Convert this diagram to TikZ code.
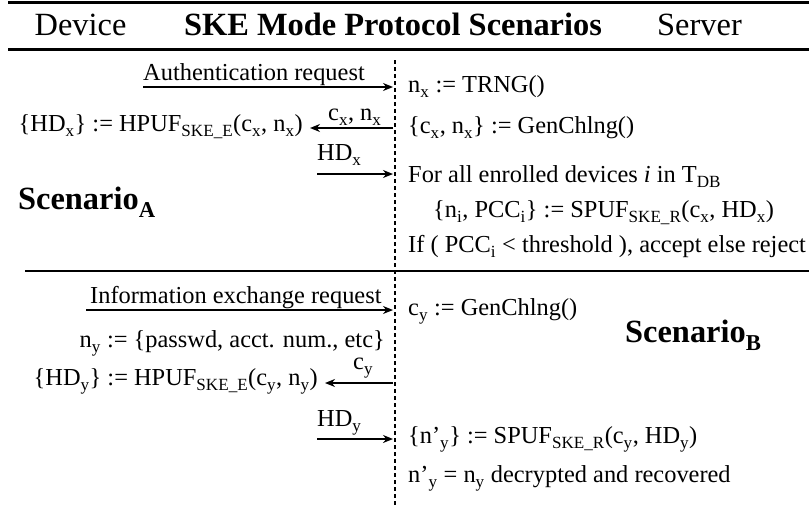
\documentclass[tikz,border=0pt]{standalone}
\usepackage{fontspec}
\setmainfont{Liberation Serif}
\usetikzlibrary{arrows.meta}
\newcommand{\lo}[1]{\raisebox{-2pt}{\textsubscript{#1}}}

\begin{document}
\begin{tikzpicture}[x=1pt, y=-1pt, >={Stealth[length=10pt,width=8pt]},
  msg/.style={->, line width=2.2pt},
  rule/.style={line width=2.2pt},
  life/.style={line width=2.4pt, dash pattern=on 4pt off 3pt},
  txt/.style={font=\fontsize{24.4}{29}\selectfont, inner sep=0pt},
  big/.style={font=\fontsize{32.4}{38}\selectfont, inner sep=0pt}]
\useasboundingbox (0,0) rectangle (809,512);

\draw[rule] (8,2.5) -- (809,2.5);
\node[big, anchor=base] (dev) at (80.5,35) {Device};
\node[big, anchor=base] (title) at (393,35) {\textbf{SKE Mode Protocol Scenarios}};
\node[big, anchor=base] (srv) at (699.5,35) {Server};
\draw[rule] (8,49.5) -- (809,49.5);

\coordinate (ltop) at (395,60);
\coordinate (lbot) at (395,507);
\draw[life] (ltop) -- (lbot);

% scenario A
\coordinate (a1) at (143,87);   \coordinate (b1) at (393,87);
\draw[msg] (a1) -- (b1);
\node[txt, anchor=base west] (authreq) at (143,80) {Authentication request};
\node[txt, anchor=base west] (trng) at (408,92) {n\lo{x} := TRNG()};

\coordinate (b2) at (393,128);  \coordinate (a2) at (310,128);
\draw[msg] (b2) -- (a2);
\node[txt, anchor=base west] (cxnx) at (328,120) {c\lo{x}, n\lo{x}};
\node[txt, anchor=base west] (genx) at (408,133) {\{c\lo{x}, n\lo{x}\} := GenChlng()};
\node[txt, anchor=base east] (hpufx) at (303,131) {\{HD\lo{x}\} := HPUF\lo{SKE\_E}(c\lo{x}, n\lo{x})};

\coordinate (a3) at (317,174);  \coordinate (b3) at (393,174);
\draw[msg] (a3) -- (b3);
\node[txt, anchor=base west] (hdx) at (317,160) {HD\lo{x}};
\node[txt, anchor=base west] (forall) at (408,182) {For all enrolled devices \textit{i} in T\lo{DB}};
\node[txt, anchor=base west] (spufx) at (433,217) {\{n\lo{i}, PCC\lo{i}\} := SPUF\lo{SKE\_R}(c\lo{x}, HD\lo{x})};
\node[txt, anchor=base west] (check) at (408,252) {If ( PCC\lo{i} < threshold ), accept else reject};
\node[big, anchor=base west] (scA) at (18,209) {\textbf{Scenario\lo{A}}};

\draw[rule] (25,271) -- (809,271);

% scenario B
\coordinate (a4) at (86,310);   \coordinate (b4) at (393,310);
\draw[msg] (a4) -- (b4);
\node[txt, anchor=base west] (inforeq) at (90,303) {Information exchange request};
\node[txt, anchor=base west] (geny) at (408,315) {c\lo{y} := GenChlng()};
\node[txt, anchor=base east] (ny) at (385,347) {n\lo{y} := \{passwd, acct. num., etc\}};
\node[big, anchor=base west] (scB) at (625,342) {\textbf{Scenario\lo{B}}};

\coordinate (b5) at (393,383);  \coordinate (a5) at (325,383);
\draw[msg] (b5) -- (a5);
\node[txt, anchor=base west] (cy) at (353,369) {c\lo{y}};
\node[txt, anchor=base east] (hpufy) at (318,385) {\{HD\lo{y}\} := HPUF\lo{SKE\_E}(c\lo{y}, n\lo{y})};

\coordinate (a6) at (317,439);  \coordinate (b6) at (393,439);
\draw[msg] (a6) -- (b6);
\node[txt, anchor=base west] (hdy) at (317,426) {HD\lo{y}};
\node[txt, anchor=base west] (spufy) at (408,443) {\{n’\lo{y}\} := SPUF\lo{SKE\_R}(c\lo{y}, HD\lo{y})};
\node[txt, anchor=base west] (recov) at (408,482) {n’\lo{y} = n\lo{y} decrypted and recovered};
\end{tikzpicture}
\end{document}
